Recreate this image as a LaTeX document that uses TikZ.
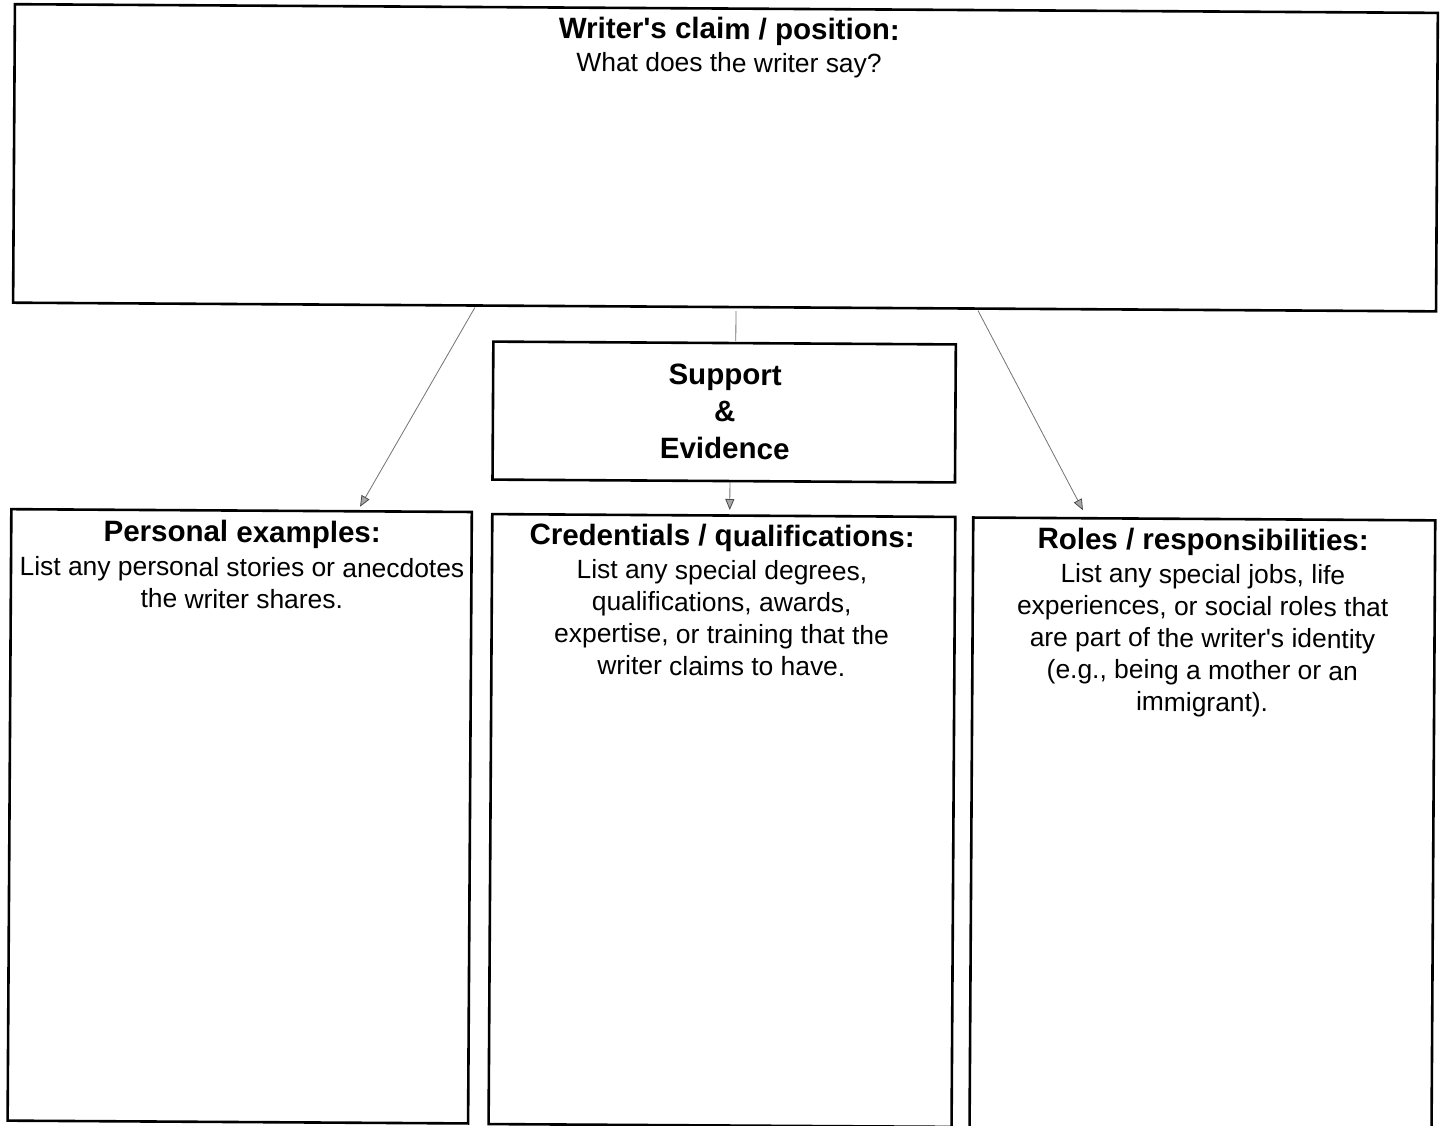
\documentclass[tikz,border=0pt]{standalone}
\usepackage{fontspec}
\setmainfont{Liberation Sans}
\usetikzlibrary{arrows.meta}
\begin{document}
\begin{tikzpicture}[x=1pt,y=-1pt,
  box/.style={draw=black, line width=2.6pt, rectangle, inner sep=0pt, transform shape},
  conn/.style={draw=black!55, line width=0.8pt, -{Triangle[length=11pt,width=9pt,color=black!70,fill=black!35]}},
  link/.style={draw=black!55, line width=0.8pt},
  ttl/.style={font=\fontsize{29.5}{37}\selectfont\bfseries, inner sep=0pt, transform shape, align=center},
  body/.style={font=\fontsize{26.4}{32}\selectfont, inner sep=0pt, transform shape, align=center}]
\useasboundingbox[fill=white] (0,0) rectangle (1443,1126);
\clip (0,0) rectangle (1443,1126);
\begin{scope}[rotate around={-0.35:(721.5,563)}]
  % boxes
  \node[box, minimum width=1423pt, minimum height=298.5pt] (claim) at (723,157.75) {};
  \node[box, minimum width=462.5pt, minimum height=138pt] (support) at (723.25,412) {};
  \node[box, minimum width=460.5pt, minimum height=611.5pt] (personal) at (241.25,819.25) {};
  \node[box, minimum width=463pt, minimum height=610pt] (cred) at (723.5,820.5) {};
  \node[box, minimum width=462pt, minimum height=624pt] (roles) at (1204,828) {};
  % texts
  \node[ttl, anchor=base] (claimT) at (726,39) {Writer\textquotesingle s claim / position:};
  \node[body, anchor=base] (claimB) at (726,72) {What does the writer say?};
  \node[ttl, anchor=north] (supT) at (724,364) {Support\\\&\\Evidence};
  \node[ttl, anchor=base] (persT) at (242,545) {Personal examples:};
  \node[body, anchor=north] (persB) at (242,560) {List any personal stories or anecdotes\\the writer shares.};
  \node[ttl, anchor=base] (credT) at (722,546) {Credentials / qualifications:};
  \node[body, anchor=north] (credB) at (722,560) {List any special degrees,\\qualifications, awards,\\expertise, or training that the\\writer claims to have.};
  \node[ttl, anchor=base] (rolesT) at (1203,547) {Roles / responsibilities:};
  \node[body, anchor=north] (rolesB) at (1203,561) {List any special jobs, life\\experiences, or social roles that\\are part of the writer\textquotesingle s identity\\(e.g., being a mother or an\\immigrant).};
  % connector end points
  \coordinate (lA) at (473.4,309);
  \coordinate (lB) at (359.7,509);
  \coordinate (mA) at (734.5,311);
  \coordinate (mB) at (734.5,341);
  \coordinate (nA) at (729.5,482);
  \coordinate (nB) at (729.5,510);
  \coordinate (rA) at (976.5,309);
  \coordinate (rB) at (1082.7,508);
  \draw[conn] (lA) -- (lB);
  \draw[link] (mA) -- (mB);
  \draw[conn] (nA) -- (nB);
  \draw[conn] (rA) -- (rB);
\end{scope}
\end{tikzpicture}
\end{document}
